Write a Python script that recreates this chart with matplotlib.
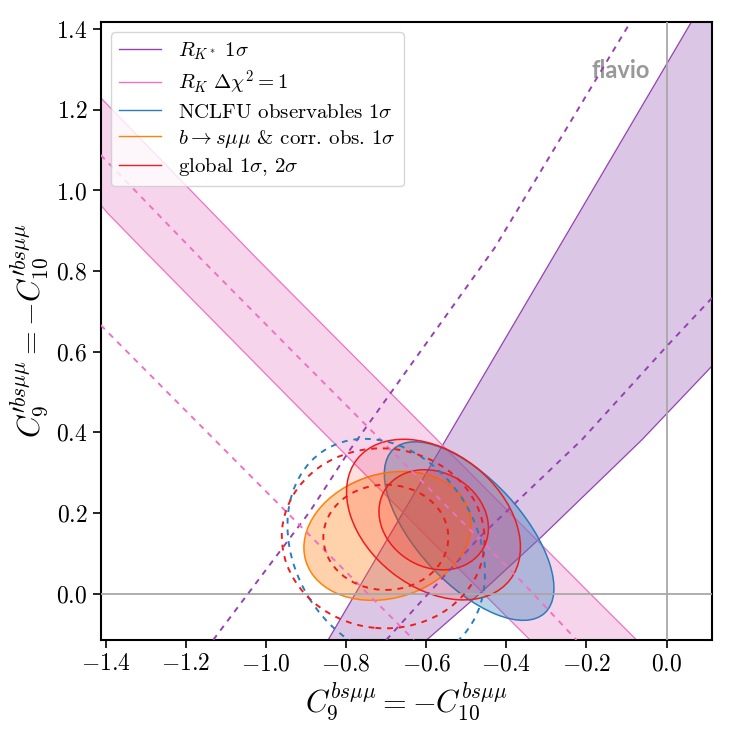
import matplotlib
matplotlib.use('Agg')
import matplotlib.pyplot as plt
from matplotlib.patches import Ellipse
from matplotlib.lines import Line2D

plt.rcParams['font.family'] = 'serif'
plt.rcParams['font.serif'] = ['cmr10']
plt.rcParams['mathtext.fontset'] = 'cm'
plt.rcParams['axes.formatter.use_mathtext'] = True

# R_K* 1 sigma band (purple), outline of the filled region
rkstar_fill_x = [-0.845, 0.062, 0.114, 0.114, -0.062, -0.312, -0.466, -0.599]
rkstar_fill_y = [-0.115, 1.418, 1.418, 0.565, 0.381, 0.141, 0.0, -0.115]
rkstar_left_x = [-0.845, 0.062]
rkstar_left_y = [-0.115, 1.418]
rkstar_right_x = [-0.599, -0.466, -0.312, -0.062, 0.114]
rkstar_right_y = [-0.115, 0.0, 0.141, 0.381, 0.565]
# dashed R_K* contours
rkstar_dash1_x = [-1.132, -0.891, -0.791, -0.429, -0.090]
rkstar_dash1_y = [-0.115, 0.203, 0.356, 0.858, 1.418]
rkstar_dash2_x = [-0.700, -0.466, -0.212, 0.0, 0.114]
rkstar_dash2_y = [-0.115, 0.141, 0.381, 0.613, 0.734]

# R_K band (pink)
rk_upper_x = [-1.413, -1.020, -0.191, -0.075]
rk_upper_y = [1.230, 0.828, 0.0, -0.115]
rk_lower_x = [-1.413, -1.395, -1.282, -0.920, -0.441, -0.341]
rk_lower_y = [0.964, 0.943, 0.828, 0.463, -0.016, -0.115]
rk_dash1_x = [-1.413, -1.160, -0.920, -0.358, -0.225]
rk_dash1_y = [1.088, 0.828, 0.587, 0.026, -0.115]
rk_dash2_x = [-1.413, -1.078, -0.631]
rk_dash2_y = [0.666, 0.331, -0.115]

# ellipses: centre x, centre y, width, height, angle
nclfu_1s = [-0.493, 0.155, 0.555, 0.260, -47]
nclfu_dash = [-0.700, 0.110, 0.580, 0.455, -58]
bsmumu_1s = [-0.697, 0.143, 0.426, 0.308, 17]
global_1s = [-0.5815, 0.183, 0.285, 0.235, -30]
global_2s = [-0.582, 0.1835, 0.485, 0.335, -38]
global_dash_1s = [-0.701, 0.1395, 0.312, 0.261, 0]
global_dash_2s = [-0.7075, 0.137, 0.507, 0.446, -5]

legend_labels = [r'$R_{K^*}\ 1\sigma$',
                 r'$R_K\ \Delta\chi^2=1$',
                 r'NCLFU observables $1\sigma$',
                 r'$b\to s\mu\mu$ & corr. obs. $1\sigma$',
                 r'global $1\sigma$, $2\sigma$']

purple = '#9542b0'
pink = '#ee72c4'
blue = '#2a7dbd'
orange = '#ff8208'
red = '#ee1c1c'
legend_colors = [purple, pink, blue, orange, red]

x_ticks = [-1.4, -1.2, -1.0, -0.8, -0.6, -0.4, -0.2, 0.0]
y_ticks = [0.0, 0.2, 0.4, 0.6, 0.8, 1.0, 1.2, 1.4]


def add_ellipse(ax, e, face, edge, alpha, z=2):
    ax.add_patch(Ellipse((e[0], e[1]), e[2], e[3], angle=e[4],
                         facecolor=face, alpha=alpha, edgecolor='none', zorder=z))
    ax.add_patch(Ellipse((e[0], e[1]), e[2], e[3], angle=e[4],
                         facecolor='none', edgecolor=edge, lw=1.1, zorder=z + 0.1))


def main():
    fig = plt.figure(figsize=(7.35, 7.33), dpi=100)
    ax = fig.add_axes([0.137, 0.127, 0.832, 0.843])

    # R_K*
    ax.fill(rkstar_fill_x, rkstar_fill_y, color='#8e44ad', alpha=0.3, lw=0, zorder=1)
    ax.plot(rkstar_left_x, rkstar_left_y, color=purple, lw=0.9, zorder=1.1)
    ax.plot(rkstar_right_x, rkstar_right_y, color=purple, lw=0.9, zorder=1.1)

    # R_K
    ax.fill(rk_upper_x + rk_lower_x[::-1], rk_upper_y + rk_lower_y[::-1],
            color='#e377c2', alpha=0.3, lw=0, zorder=1.2)
    ax.plot(rk_upper_x, rk_upper_y, color=pink, lw=0.9, zorder=1.3)
    ax.plot(rk_lower_x, rk_lower_y, color=pink, lw=0.9, zorder=1.3)

    add_ellipse(ax, nclfu_1s, '#1f77b4', blue, 0.32, z=2)
    add_ellipse(ax, bsmumu_1s, '#ff7f0e', orange, 0.35, z=2.2)
    add_ellipse(ax, global_2s, 'red', red, 0.13, z=2.4)
    add_ellipse(ax, global_1s, 'red', red, 0.13, z=2.6)

    ax.axhline(0, color='#a8a8a8', lw=1.3, zorder=3)
    ax.axvline(0, color='#a8a8a8', lw=1.3, zorder=3)

    # dashed contours
    dash = (0, (3, 3))
    ax.plot(rkstar_dash1_x, rkstar_dash1_y, color=purple, lw=1.4, ls=dash, zorder=4)
    ax.plot(rkstar_dash2_x, rkstar_dash2_y, color=purple, lw=1.4, ls=dash, zorder=4)
    ax.plot(rk_dash1_x, rk_dash1_y, color=pink, lw=1.4, ls=dash, zorder=4)
    ax.plot(rk_dash2_x, rk_dash2_y, color=pink, lw=1.4, ls=dash, zorder=4)
    for e, c in [(nclfu_dash, blue), (global_dash_1s, red), (global_dash_2s, red)]:
        ax.add_patch(Ellipse((e[0], e[1]), e[2], e[3], angle=e[4], facecolor='none',
                             edgecolor=c, lw=1.4, ls=dash, zorder=4))

    ax.set_xlim(-1.413, 0.114)
    ax.set_ylim(-0.115, 1.418)
    ax.set_xticks(x_ticks)
    ax.set_yticks(y_ticks)
    ax.tick_params(direction='out', length=6, width=1.2, labelsize=17)
    for sp in ax.spines.values():
        sp.set_linewidth(1.5)

    ax.set_xlabel(r'$C_9^{bs\mu\mu}=-C_{10}^{bs\mu\mu}$', fontsize=22)
    ax.set_ylabel(r'$C_9^{\prime bs\mu\mu}=-C_{10}^{\prime bs\mu\mu}$', fontsize=22)

    ax.text(0.898, 0.922, 'flavio', transform=ax.transAxes, ha='right', va='center',
            fontsize=17, fontweight='bold', color='0.6', family='Lato')

    handles = [Line2D([], [], color=c, lw=1) for c in legend_colors]
    ax.legend(handles, legend_labels, loc='upper left', fontsize=15,
              labelspacing=0.3, framealpha=0.8, edgecolor='0.8')

    fig.savefig('out.png', dpi=100)


if __name__ == '__main__':
    main()
